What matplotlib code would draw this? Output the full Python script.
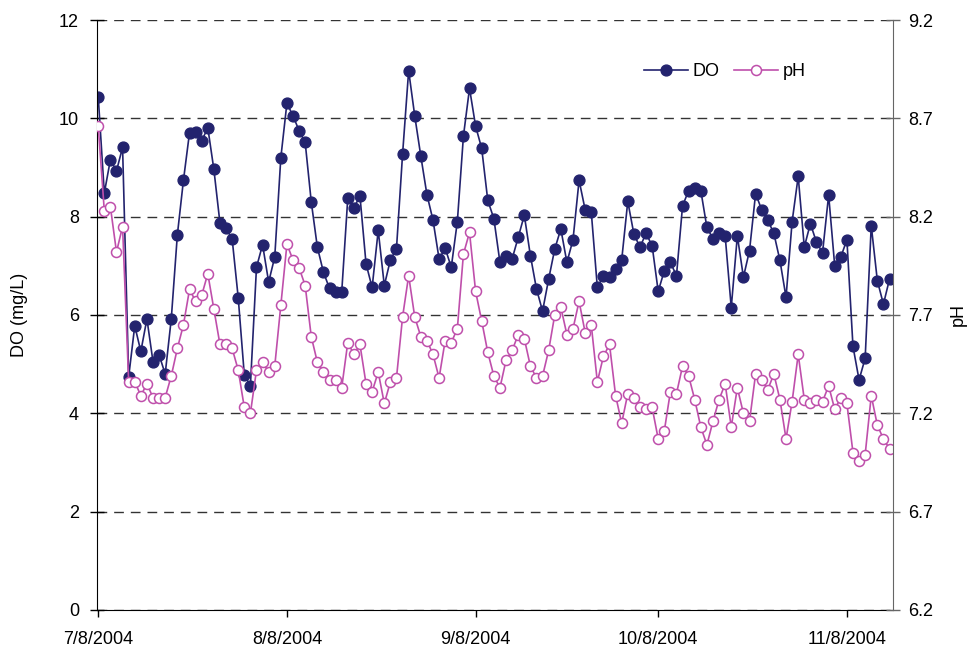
import matplotlib
matplotlib.use("Agg")
import matplotlib.pyplot as plt
import numpy as np
import pandas as pd

plt.rcParams["font.family"] = ["Liberation Sans", "DejaVu Sans"]

# daily readings starting 7/8/2004
start_date = "2004-07-08"

do_mgl = [10.44, 8.48, 9.16, 8.93, 9.41, 4.74, 5.78, 5.26, 5.92, 5.05, 5.19, 4.80, 5.92, 7.63, 8.74, 9.71,
          9.73, 9.54, 9.81, 8.96, 7.87, 7.76, 7.55, 6.35, 4.78, 4.56, 6.97, 7.43, 6.67, 7.18, 9.20, 10.31,
          10.05, 9.75, 9.51, 8.30, 7.38, 6.87, 6.54, 6.46, 6.46, 8.38, 8.18, 8.42, 7.04, 6.56, 7.72, 6.60,
          7.12, 7.35, 9.27, 10.97, 10.05, 9.23, 8.45, 7.93, 7.14, 7.36, 6.97, 7.90, 9.64, 10.61, 9.84, 9.39,
          8.33, 7.96, 7.07, 7.19, 7.14, 7.58, 8.03, 7.21, 6.53, 6.08, 6.73, 7.34, 7.75, 7.07, 7.53, 8.74,
          8.14, 8.10, 6.56, 6.80, 6.77, 6.94, 7.12, 8.31, 7.65, 7.38, 7.66, 7.41, 6.48, 6.90, 7.07,
          6.80, 8.22, 8.53, 8.58, 8.53, 7.78, 7.55, 7.66, 7.61, 6.15, 7.61, 6.77, 7.31, 8.47, 8.14, 7.93,
          7.66, 7.11, 6.36, 7.90, 8.82, 7.38, 7.86, 7.48, 7.27, 8.44, 7.00, 7.18, 7.53, 5.36, 4.68, 5.12,
          7.82, 6.70, 6.22, 6.73]

ph = [8.66, 8.23, 8.25, 8.02, 8.15, 7.36, 7.36, 7.29, 7.35, 7.28, 7.28, 7.28, 7.39, 7.53, 7.65, 7.83,
      7.77, 7.80, 7.91, 7.73, 7.55, 7.55, 7.53, 7.42, 7.23, 7.20, 7.42, 7.46, 7.41, 7.44, 7.75, 8.06,
      7.98, 7.94, 7.85, 7.59, 7.46, 7.41, 7.37, 7.37, 7.33, 7.56, 7.50, 7.55, 7.35, 7.31, 7.41, 7.25,
      7.36, 7.38, 7.69, 7.90, 7.69, 7.59, 7.57, 7.50, 7.38, 7.57, 7.56, 7.63, 8.01, 8.12, 7.82, 7.67,
      7.51, 7.39, 7.33, 7.47, 7.52, 7.60, 7.58, 7.44, 7.38, 7.39, 7.52, 7.70, 7.74, 7.60, 7.63, 7.77,
      7.61, 7.65, 7.36, 7.49, 7.55, 7.29, 7.15, 7.30, 7.28, 7.23, 7.22, 7.23, 7.07, 7.11, 7.31,
      7.30, 7.44, 7.39, 7.27, 7.13, 7.04, 7.16, 7.27, 7.35, 7.13, 7.33, 7.20, 7.16, 7.40, 7.37, 7.32,
      7.40, 7.27, 7.07, 7.26, 7.50, 7.27, 7.25, 7.27, 7.26, 7.34, 7.22, 7.28, 7.25, 7.00, 6.96, 6.99,
      7.29, 7.14, 7.07, 7.02]

date_ticks = ["2004-07-08", "2004-08-08", "2004-09-08", "2004-10-08", "2004-11-08"]
date_labels = ["7/8/2004", "8/8/2004", "9/8/2004", "10/8/2004", "11/8/2004"]
do_ticks = [0, 2, 4, 6, 8, 10, 12]
ph_ticks = [6.2, 6.7, 7.2, 7.7, 8.2, 8.7, 9.2]

do_color = "#23236E"
ph_color = "#BF4FAB"

dates = pd.date_range(start_date, periods=len(do_mgl), freq="D")

fig = plt.figure(figsize=(9.74, 6.54), dpi=100)
ax = fig.add_axes([0.0996, 0.0673, 0.8174, 0.9021])
ax2 = ax.twinx()

l1, = ax.plot(dates, do_mgl, color=do_color, lw=1.2, marker="o", ms=7.8,
              mfc=do_color, mec=do_color, label="DO")
l2, = ax2.plot(dates, ph, color=ph_color, lw=1.2, marker="o", ms=7.2,
               mfc="white", mec=ph_color, mew=1.1, label="pH")

ax.set_ylim(0, 12)
ax.set_yticks(do_ticks)
ax2.set_ylim(6.2, 9.2)
ax2.set_yticks(ph_ticks)
ax2.set_yticklabels([f"{t:.1f}" for t in ph_ticks])

ax.set_xlim(dates[0] - pd.Timedelta(days=0.2), dates[-1] + pd.Timedelta(days=0.6))
ax.set_xticks(pd.to_datetime(date_ticks))
ax.set_xticklabels(date_labels)

ax.grid(axis="y", color="#333333", linestyle=(0, (7, 5)), lw=1.0)
ax.set_axisbelow(True)

for a in (ax, ax2):
    a.spines["top"].set_visible(False)
ax.spines["right"].set_visible(False)
ax2.spines["left"].set_visible(False)
ax2.spines["bottom"].set_visible(False)
ax.spines["left"].set_color("#000000")
ax.spines["bottom"].set_color("#000000")
ax2.spines["right"].set_color("#666666")

ax.tick_params(axis="y", direction="inout", length=10, width=1, labelsize=13, pad=8)
ax.tick_params(axis="x", direction="out", length=5, width=1, labelsize=13, pad=10)
ax2.tick_params(axis="y", direction="inout", length=10, width=1, colors="#666666",
                labelcolor="black", labelsize=13, pad=6)

ax.set_ylabel("DO (mg/L)", fontsize=13, labelpad=22)
ax2.set_ylabel("pH", fontsize=13, labelpad=12)

ax2.legend(handles=[l1, l2], loc="center", bbox_to_anchor=(0.789, 0.912), ncol=2,
           frameon=False, fontsize=13, handlelength=2.4, handletextpad=0.3,
           columnspacing=0.8)

fig.savefig("out.png", dpi=100)
